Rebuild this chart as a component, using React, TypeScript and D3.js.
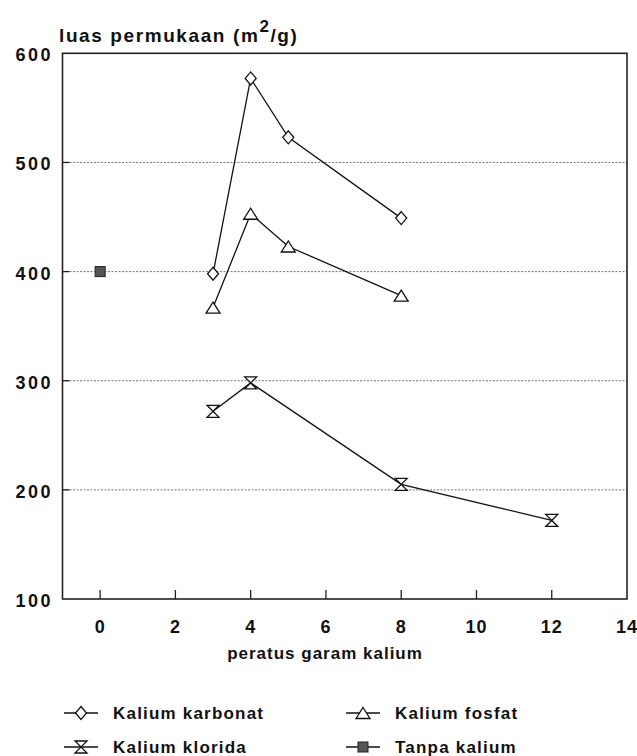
import React from "react";
import * as d3 from "d3";

const W = 637;
const H = 756;

const xTicks = [0, 2, 4, 6, 8, 10, 12, 14];
const yTicks = [100, 200, 300, 400, 500, 600];
const gridValues = [200, 300, 400, 500];

const karbonatX = [3, 4, 5, 8];
const karbonatY = [398, 577, 523, 449];
const fosfatX = [3, 4, 5, 8];
const fosfatY = [367, 453, 423, 378];
const kloridaX = [3, 4, 8, 12];
const kloridaY = [272, 298, 205, 172];
const tanpaX = [0];
const tanpaY = [400];

const legendLabels = ["Kalium karbonat", "Kalium fosfat", "Kalium klorida", "Tanpa kalium"];
const legendMarkers = ["diamond", "triangle", "hourglass", "square"];

const FONT = "'Liberation Sans', Arial, Helvetica, sans-serif";

const x = d3.scaleLinear().domain([-1, 14]).range([62.5, 627]);
const y = d3.scaleLinear().domain([100, 600]).range([599, 53.3]);

function Marker({ type, cx, cy }: { type: string; cx: number; cy: number }) {
  const common = { stroke: "#111", strokeWidth: 1.3, fill: "#fff" };
  if (type === "diamond") {
    const w = 5.5, h = 6.5;
    return <path d={`M${cx},${cy - h}L${cx + w},${cy}L${cx},${cy + h}L${cx - w},${cy}Z`} {...common} />;
  }
  if (type === "triangle") {
    const w = 7, h = 5.5;
    return <path d={`M${cx},${cy - h}L${cx + w},${cy + h}L${cx - w},${cy + h}Z`} {...common} />;
  }
  if (type === "hourglass") {
    const w = 6, h = 6;
    return <path d={`M${cx - w},${cy - h}L${cx + w},${cy - h}L${cx - w},${cy + h}L${cx + w},${cy + h}Z`} {...common} />;
  }
  return <rect x={cx - 5} y={cy - 5} width={10} height={10} fill="#555" stroke="#222" strokeWidth={1} />;
}

function Series({ xs, ys, type }: { xs: number[]; ys: number[]; type: string }) {
  const pts = xs.map((v, i) => [x(v), y(ys[i])] as [number, number]);
  const line = d3.line();
  return (
    <g>
      {pts.length > 1 && <path d={line(pts) || ""} fill="none" stroke="#111" strokeWidth={1.3} />}
      {pts.map((p, i) => (
        <Marker key={i} type={type} cx={p[0]} cy={p[1]} />
      ))}
    </g>
  );
}

export default function App() {
  const left = x(-1), right = x(14), top = y(600), bottom = y(100);
  const legendPos = [
    [64, 713],
    [346, 713],
    [64, 747],
    [346, 747],
  ];
  return (
    <div style={{ position: "absolute", left: 0, top: 0 }}>
      <svg width={W} height={H} style={{ display: "block", background: "#fff" }} fontFamily={FONT}>
        {gridValues.map((g) => (
          <line key={g} x1={left} x2={right} y1={y(g)} y2={y(g)} stroke="#777" strokeWidth={1} strokeDasharray="2,1.5" />
        ))}
        <rect x={left} y={top} width={right - left} height={bottom - top} fill="none" stroke="#222" strokeWidth={1.6} />
        {xTicks.filter((t) => t < 14).map((t) => (
          <line key={t} x1={x(t)} x2={x(t)} y1={bottom} y2={bottom - 9} stroke="#222" strokeWidth={1.3} />
        ))}
        {yTicks.filter((t) => t > 100 && t < 600).map((t) => (
          <line key={t} x1={left} x2={left + 7} y1={y(t)} y2={y(t)} stroke="#222" strokeWidth={1.3} />
        ))}
        {xTicks.map((t) => (
          <text key={t} x={x(t)} y={627} textAnchor="middle" dominantBaseline="central" fontWeight="bold" fontSize={18} fill="#111" letterSpacing={1}>
            {t}
          </text>
        ))}
        {yTicks.map((t) => (
          <text key={t} x={53} y={y(t) + 2} textAnchor="end" dominantBaseline="central" fontWeight="bold" fontSize={18} fill="#111" letterSpacing={2.5}>
            {t}
          </text>
        ))}
        <text x={59} y={42} fontWeight="bold" fontSize={19} fill="#111" letterSpacing={1.6}>
          luas permukaan (m<tspan dy={-10} fontSize={17}>2</tspan><tspan dy={10}>/g)</tspan>
        </text>
        <text x={325} y={659} textAnchor="middle" fontWeight="bold" fontSize={17} fill="#111" letterSpacing={1}>
          peratus garam kalium
        </text>
        <Series xs={karbonatX} ys={karbonatY} type="diamond" />
        <Series xs={fosfatX} ys={fosfatY} type="triangle" />
        <Series xs={kloridaX} ys={kloridaY} type="hourglass" />
        <Series xs={tanpaX} ys={tanpaY} type="square" />
        {legendLabels.map((lab, i) => {
          const [lx, ly] = legendPos[i];
          return (
            <g key={lab}>
              <line x1={lx} x2={lx + 34} y1={ly} y2={ly} stroke="#111" strokeWidth={1.3} />
              <Marker type={legendMarkers[i]} cx={lx + 17} cy={ly} />
              <text x={lx + 49} y={ly} dominantBaseline="central" fontWeight="bold" fontSize={17} fill="#111" letterSpacing={1.2}>
                {lab}
              </text>
            </g>
          );
        })}
      </svg>
    </div>
  );
}
